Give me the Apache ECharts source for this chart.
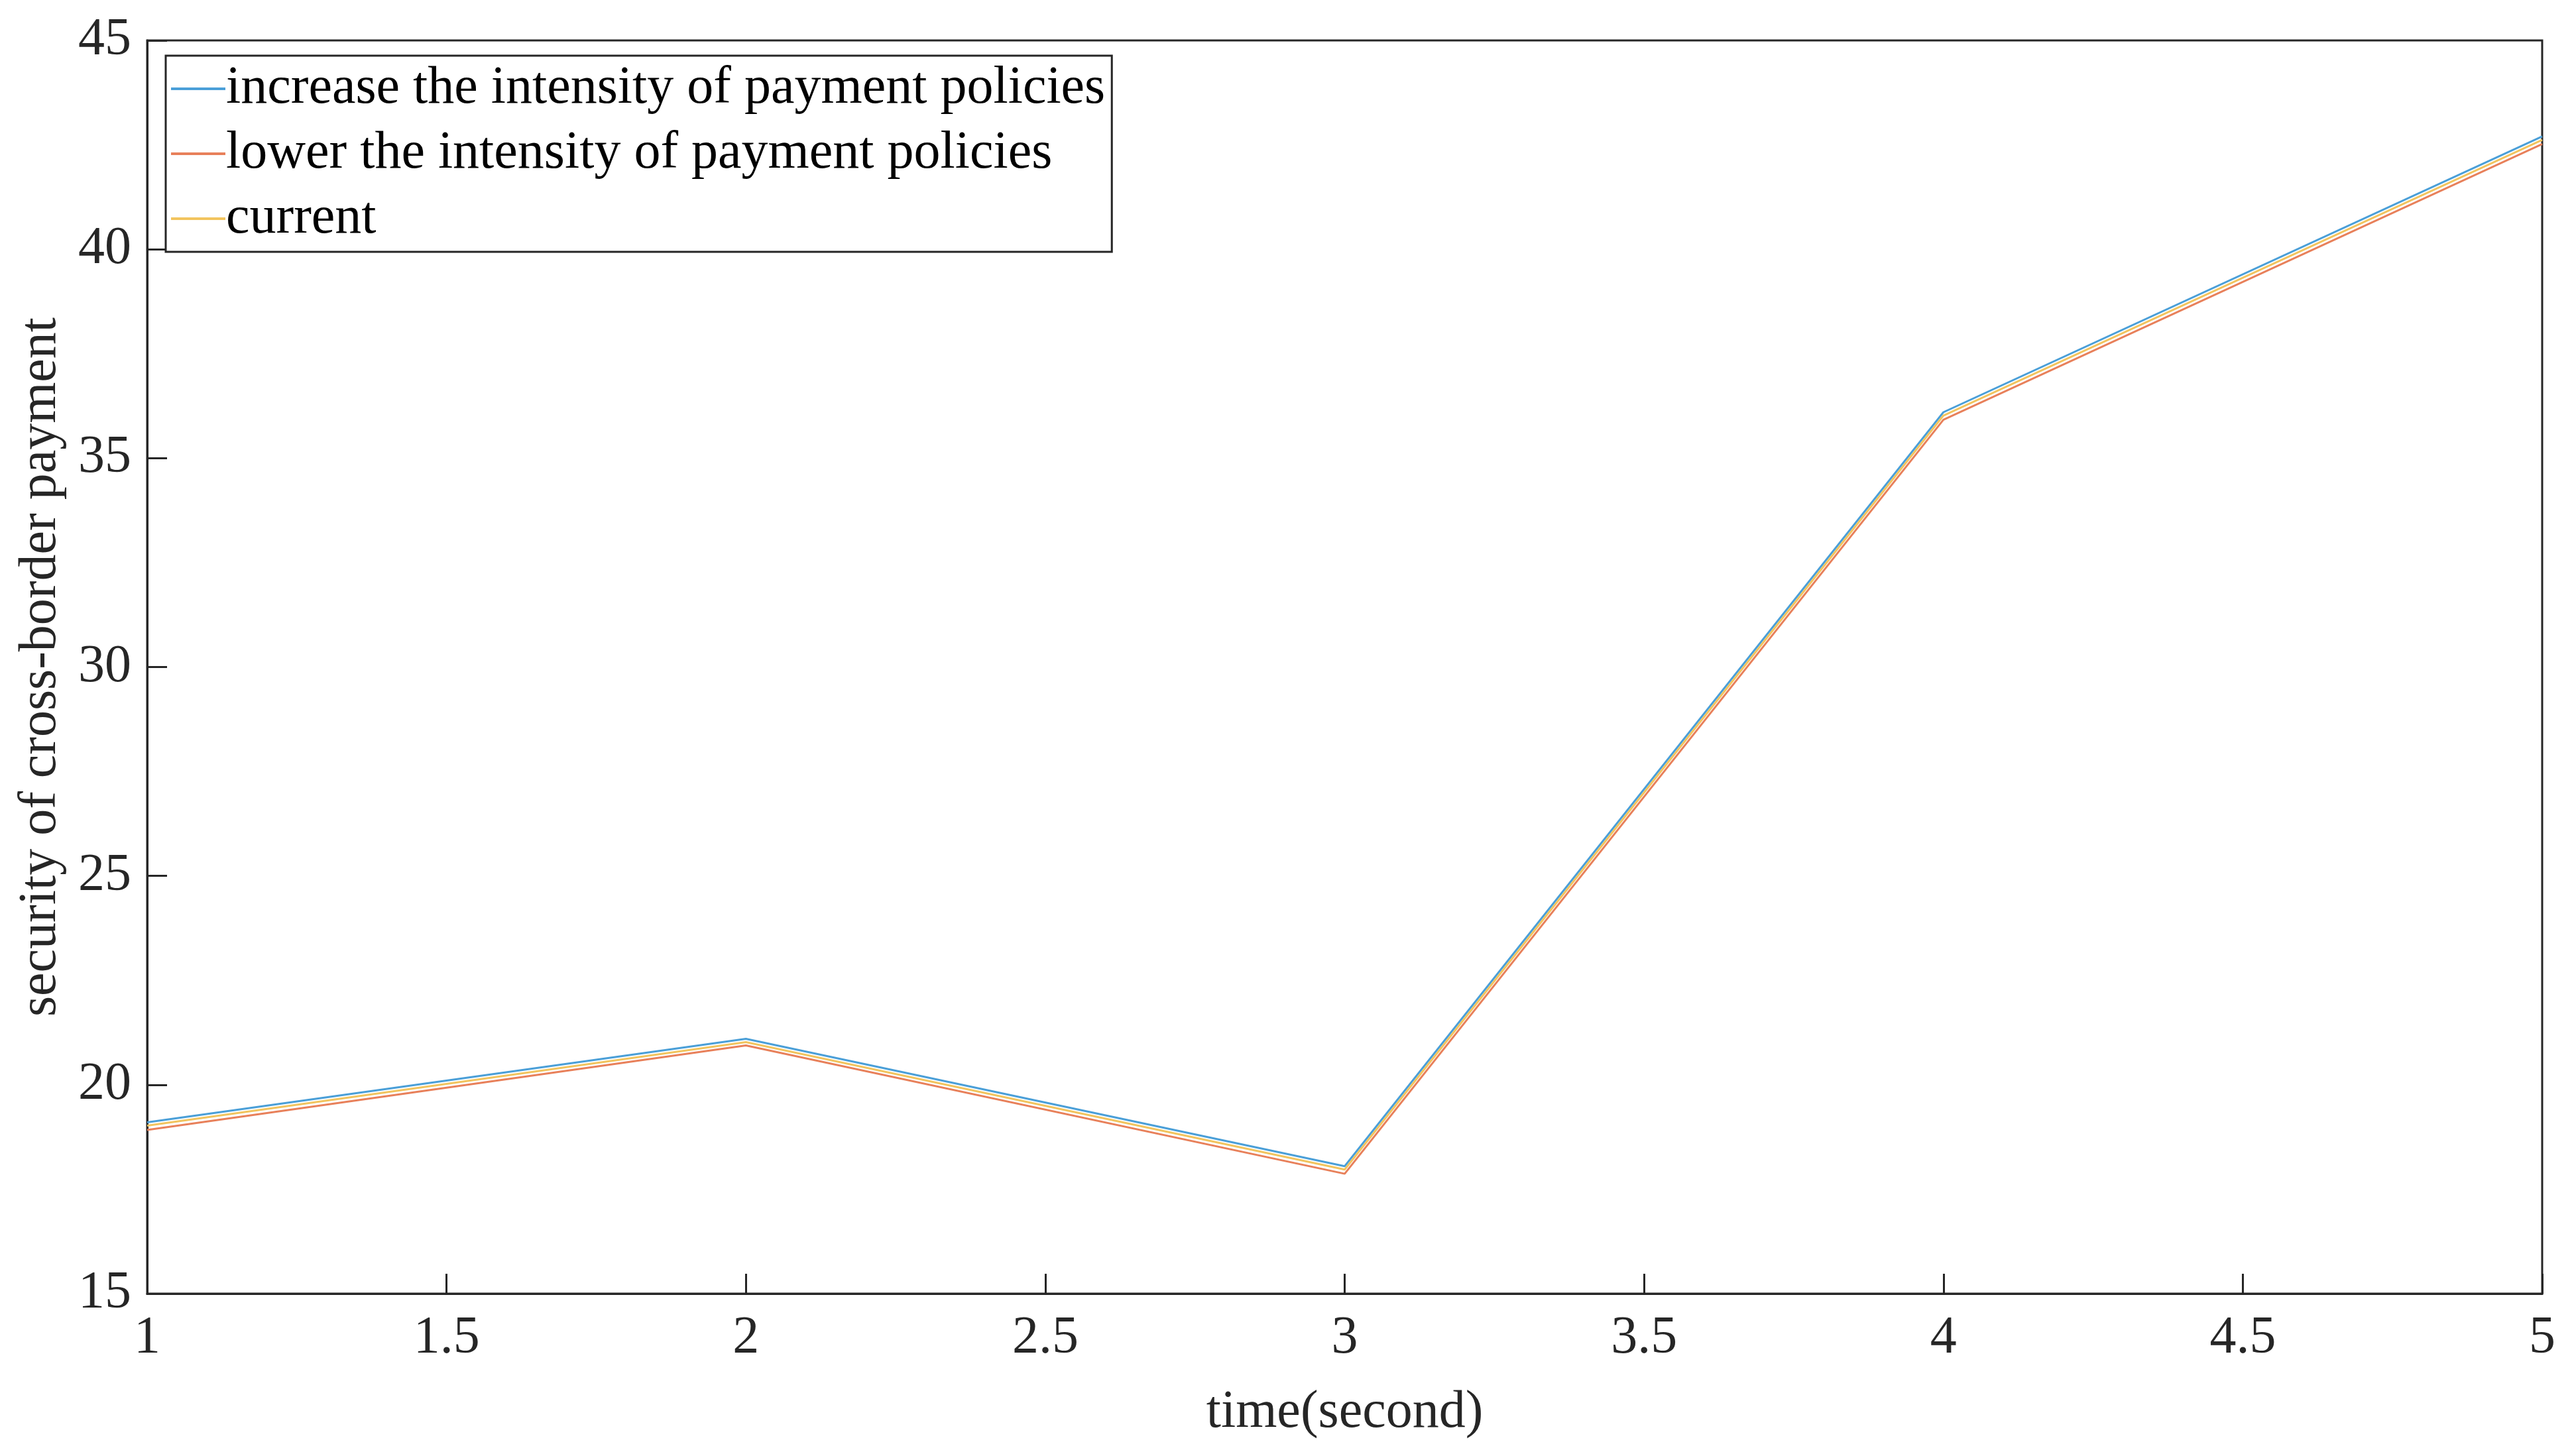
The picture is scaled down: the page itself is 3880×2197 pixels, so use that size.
<!DOCTYPE html>
<html>
<head>
<meta charset="utf-8">
<script src="https://cdn.jsdelivr.net/npm/echarts@6/dist/echarts.min.js"></script>
<style>html,body{margin:0;background:#fff}#c{width:3880px;height:2197px}</style>
</head>
<body>
<div id="c"></div>
<script>
const times = [1, 2, 3, 4, 5]
const increase = [19.1, 21.1, 18.05, 36.1, 42.7]
const current = [19.02, 21.02, 17.97, 36.02, 42.62]
const lower = [18.92, 20.94, 17.87, 35.92, 42.52]
const names = ['increase the intensity of payment policies', 'lower the intensity of payment policies', 'current']

const font = '"Liberation Serif", "DejaVu Serif", serif'
const chart = echarts.init(document.getElementById('c'))

function line(name, vals, color) {
  return {
    name, type: 'line', symbol: 'none', color,
    lineStyle: { width: 3, color },
    data: times.map((t, i) => [t, vals[i]])
  }
}

const axisCommon = {
  axisLine: { show: true, lineStyle: { color: '#262626', width: 3 } },
  axisTick: { inside: true, length: 30, lineStyle: { color: '#262626', width: 3 } },
  splitLine: { show: false },
  axisLabel: { fontFamily: font, fontSize: 80, color: '#262626' },
  nameTextStyle: { fontFamily: font, fontSize: 80, color: '#262626' }
}

chart.setOption({
  animation: false,
  textStyle: { fontFamily: font },
  grid: { left: 222, right: 45, top: 61, bottom: 245, show: true, borderColor: '#262626', borderWidth: 3 },
  legend: {
    orient: 'vertical', left: 250, top: 84, itemGap: 18, itemWidth: 82, itemHeight: 4,
    icon: 'rect', padding: [10, 10, 10, 8],
    borderColor: '#262626', borderWidth: 3, backgroundColor: '#fff',
    textStyle: { fontFamily: font, fontSize: 80, color: '#000', padding: [0, 0, 0, -4] },
    data: names
  },
  xAxis: Object.assign({}, axisCommon, {
    type: 'value', min: 1, max: 5, interval: 0.5,
    name: 'time(second)', nameLocation: 'middle', nameGap: 140,
    axisLabel: Object.assign({}, axisCommon.axisLabel, { margin: 28 })
  }),
  yAxis: Object.assign({}, axisCommon, {
    type: 'value', min: 15, max: 45, interval: 5,
    name: 'security of cross-border payment', nameLocation: 'middle', nameGap: 120,
    axisLabel: Object.assign({}, axisCommon.axisLabel, { margin: 24 })
  }),
  series: [
    line(names[0], increase, '#4a9fd8'),
    line(names[1], lower, '#e8805a'),
    line(names[2], current, '#f2c45e')
  ]
})
</script>
</body>
</html>
